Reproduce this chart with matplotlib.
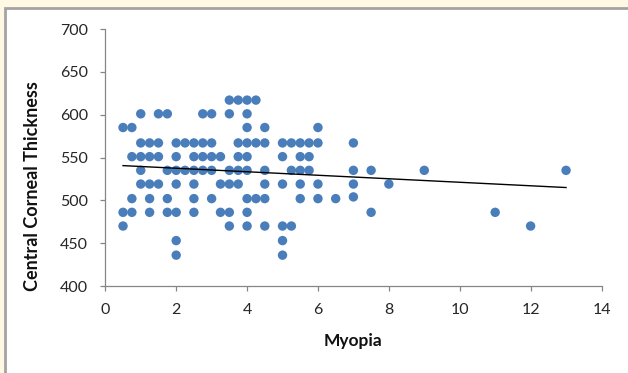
import numpy as np
import matplotlib
matplotlib.use("Agg")
import matplotlib.pyplot as plt
from matplotlib.patches import Rectangle

# Data (Myopia in D, Central Corneal Thickness in µm)
myopia = [
    3.5, 3.75, 4, 4.25,
    1, 1.5, 1.75, 2.75, 3, 3.5, 4,
    0.5, 0.75, 4, 4.5, 6,
    1, 1.25, 1.5, 2, 2.25, 2.5, 2.75, 3, 3.75, 4, 4.25, 4.5, 5, 5.25, 5.5, 5.75, 6, 7,
    0.75, 1, 1.25, 1.5, 2, 2.5, 2.75, 3, 3.25, 3.75, 4, 5, 5.5, 5.75,
    1, 1.75, 2, 2.25, 2.5, 2.75, 3, 3.5, 3.75, 4, 4.5, 5.25, 5.5, 5.75, 7, 7.5, 9, 13,
    1, 1.25, 1.5, 2, 2.5, 3.25, 3.5, 3.75, 4.5, 5, 5.5, 6, 7, 8,
    0.75, 1.25, 1.75, 2.5, 3, 4, 4.25, 4.5, 5.5, 6, 6.5, 7,
    0.5, 0.75, 1.25, 1.75, 2, 2.5, 3.25, 3.5, 4, 7.5, 11,
    0.5, 3.5, 4, 4.5, 5, 5.25, 12,
    2, 5,
    2, 5,
]
thickness = (
    [617] * 4 + [601] * 7 + [585] * 5 + [567] * 18 + [551] * 14 + [535] * 18
    + [519] * 14 + [502] * 11 + [504] + [486] * 11 + [470] * 7 + [453] * 2 + [436] * 2
)

x_ticks = [0, 2, 4, 6, 8, 10, 12, 14]
y_ticks = [400, 450, 500, 550, 600, 650, 700]

plt.rcParams['font.family'] = ['Lato', 'DejaVu Sans']

W, H = 628, 373
fig = plt.figure(figsize=(W / 100, H / 100), dpi=100)
fig.patch.set_facecolor('#FFF8E3')
# white panel with grey frame (behind the axes)
frame = Rectangle((4.5 / W, -0.05), 1.1, (H - 7.5) / H + 0.05,
                  transform=fig.transFigure, facecolor='white',
                  edgecolor='#A3A3A3', linewidth=2, zorder=-10)
fig.add_artist(frame)

ax = fig.add_axes([105.3 / W, 1 - 286 / H, (601.5 - 105.3) / W, (286 - 29) / H])
ax.set_zorder(5)
ax.set_facecolor('none')

x = np.array(myopia, dtype=float)
y = np.array(thickness, dtype=float)
ax.scatter(x, y, s=46, color='#4A7EBB', edgecolors='none', zorder=3)

# linear trendline
slope, intercept = np.polyfit(x, y, 1)
xl = np.array([x.min(), x.max()])
ax.plot(xl, intercept + slope * xl, color='black', linewidth=1, zorder=4)

ax.set_xlim(0, 14)
ax.set_ylim(400, 700)
ax.set_xticks(x_ticks)
ax.set_yticks(y_ticks)
for s in ['top', 'right']:
    ax.spines[s].set_visible(False)
for s in ['left', 'bottom']:
    ax.spines[s].set_color('#868686')
    ax.spines[s].set_linewidth(0.9)
ax.tick_params(axis='both', direction='out', length=3.6, width=0.9, color='#868686',
               labelsize=11.5, labelcolor='#262626')
ax.tick_params(axis='x', pad=9)
ax.tick_params(axis='y', pad=9)

ax.set_xlabel('Myopia', fontsize=12.5, fontweight='bold', color='#111111', labelpad=11)
ax.set_ylabel('Central Corneal Thickness', fontsize=13, fontweight='bold',
              color='#111111')
ax.yaxis.set_label_coords((41 - 105.3) / 496.2, (286 - 186.5) / 257)

fig.savefig('out.png', dpi=100, facecolor=fig.get_facecolor())
